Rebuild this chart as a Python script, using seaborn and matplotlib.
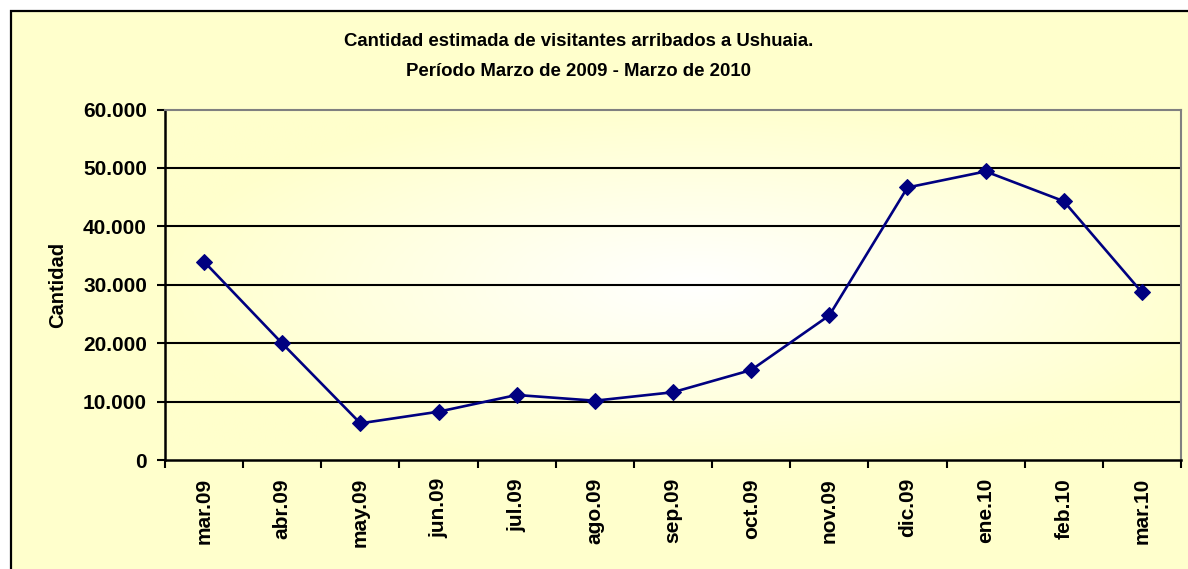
import numpy as np
import pandas as pd
import matplotlib
matplotlib.use("Agg")
import matplotlib.pyplot as plt
import seaborn as sns
from matplotlib.patches import Rectangle
from matplotlib.ticker import FuncFormatter, FixedLocator, NullFormatter
from matplotlib.colors import LinearSegmentedColormap

months = ["mar.09", "abr.09", "may.09", "jun.09", "jul.09", "ago.09", "sep.09",
          "oct.09", "nov.09", "dic.09", "ene.10", "feb.10", "mar.10"]
visitors = [33950, 19950, 6280, 8270, 11130, 10150, 11600,
            15400, 24750, 46650, 49400, 44300, 28700]
yticks = [0, 10000, 20000, 30000, 40000, 50000, 60000]
title_lines = ["Cantidad estimada de visitantes arribados a Ushuaia.",
               "Período Marzo de 2009 - Marzo de 2010"]
ylabel = "Cantidad"

sns.set_theme(style="white")
plt.rcParams['font.family'] = ['Liberation Sans', 'DejaVu Sans']
plt.rcParams['font.weight'] = 'bold'
plt.rcParams['text.color'] = 'black'
plt.rcParams['xtick.color'] = 'black'
plt.rcParams['ytick.color'] = 'black'

W, H = 1188, 569
fig = plt.figure(figsize=(W / 100, H / 100), dpi=100)
fig.patch.set_facecolor("white")

# chart area background with border (extends past right/bottom edges)
bg = Rectangle((11 / W, -0.1), 1.2, 1 - 11 / H + 0.1, transform=fig.transFigure,
               facecolor="#FFFFCC", edgecolor="black", linewidth=1.6, zorder=-10)
fig.patches.append(bg)

ax = fig.add_axes([165 / W, 1 - 460 / H, (1181 - 165) / W, (460 - 109.5) / H])
ax.set_facecolor("#FFFFCC")

# radial gradient in plot area
gx, gy = np.meshgrid(np.linspace(-1, 1, 400), np.linspace(-1, 1, 200))
cx, cy = 0.05, 0.0
d = np.sqrt((gx - cx) ** 2 + (gy - cy) ** 2)
d = np.clip(d / d.max() * 1.35, 0, 1)
cmap = LinearSegmentedColormap.from_list("g", ["#FFFFFF", "#FFFFCC"])
ax.imshow(d, cmap=cmap, extent=[0, 1, 0, 1], transform=ax.transAxes,
          aspect="auto", zorder=0, interpolation="bilinear", vmin=0, vmax=1)

df = pd.DataFrame({"mes": months, "visitantes": visitors})
sns.lineplot(data=df, x="mes", y="visitantes", ax=ax, color="#000080",
             linewidth=1.9, marker="D", markersize=8, markeredgecolor="#000080",
             zorder=5)

ax.set_xlim(-0.5, len(months) - 0.5)
ax.set_ylim(0, 60000)

# gridlines
for v in yticks[1:-1]:
    ax.axhline(v, color="black", linewidth=1.5, zorder=2)

ax.yaxis.set_major_locator(FixedLocator(yticks))
ax.yaxis.set_major_formatter(FuncFormatter(lambda v, p: f"{int(v):,}".replace(",", ".")))
ax.tick_params(axis="y", which="major", direction="out", length=6, width=1.5,
               color="black", labelcolor="black", left=True, labelsize=15, pad=7)

ax.xaxis.set_major_locator(FixedLocator(np.arange(-0.5, len(months), 1.0)))
ax.xaxis.set_major_formatter(NullFormatter())
ax.xaxis.set_minor_locator(FixedLocator(np.arange(len(months))))
ax.set_xticklabels(months, minor=True)
ax.tick_params(axis="x", which="major", direction="out", length=6, width=1.5,
               color="black", bottom=True)
ax.tick_params(axis="x", which="minor", length=0, labelsize=15, pad=13,
               labelrotation=90, labelcolor="black")
for lab in ax.get_yticklabels() + ax.get_xticklabels(minor=True):
    lab.set_fontweight("bold")

ax.set_xlabel("")
ax.set_ylabel("")
for s in ["left", "bottom"]:
    ax.spines[s].set_color("black")
    ax.spines[s].set_linewidth(1.8)
for s in ["top", "right"]:
    ax.spines[s].set_color("#808080")
    ax.spines[s].set_linewidth(1.5)

fig.text(579 / W, 1 - 42 / H, title_lines[0], ha="center", va="center",
         fontsize=13.4, fontweight="bold", color="black")
fig.text(579 / W, 1 - 71 / H, title_lines[1], ha="center", va="center",
         fontsize=13.4, fontweight="bold", color="black")
fig.text(58 / W, 1 - 285 / H, ylabel, ha="center", va="center", rotation=90,
         fontsize=14.5, fontweight="bold", color="black")

fig.savefig("out.png", dpi=100, facecolor=fig.get_facecolor())
